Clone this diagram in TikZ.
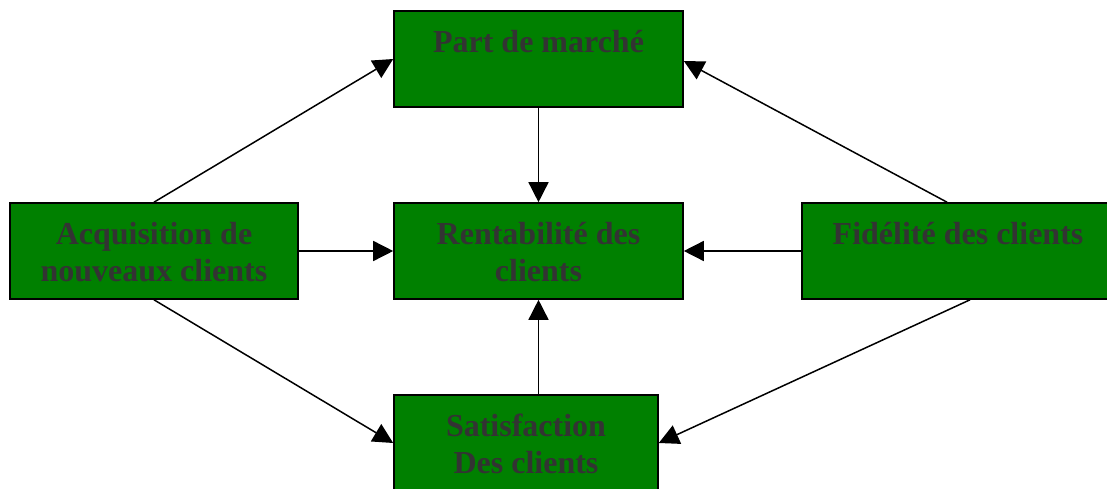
\documentclass[tikz,border=0pt]{standalone}
\usepackage{fontspec}
\setmainfont{Liberation Serif}
\usetikzlibrary{arrows.meta}
\definecolor{boxgreen}{RGB}{0,128,0}
\definecolor{labelgray}{RGB}{51,51,51}
\tikzset{
  box/.style={rectangle, draw=black, line width=1.6pt, fill=boxgreen, inner sep=0pt},
  lbl/.style={anchor=north, inner sep=0pt, align=center, text=labelgray,
    font=\fontsize{32}{37}\selectfont\bfseries},
  arr/.style={line width=1.5pt, -{Triangle[length=20pt,width=20pt]}},
}
% first line of every label gets a fixed height so all labels sit alike
\newcommand{\firstline}{\rule{0pt}{24pt}}
\begin{document}
\begin{tikzpicture}[x=1pt, y=-1pt]
  \clip (0,0) rectangle (1107,489);
  \useasboundingbox (0,0) rectangle (1107,489);

  % boxes
  \node[box, minimum width=289pt, minimum height=96pt] (part) at (538.5,59) {};
  \node[box, minimum width=289pt, minimum height=96pt] (rent) at (538.5,251) {};
  \node[box, minimum width=288pt, minimum height=96pt] (acq)  at (154,251) {};
  \node[box, minimum width=316pt, minimum height=96pt] (fid)  at (960,251) {};
  \node[box, minimum width=264pt, minimum height=96pt] (sat)  at (526,443) {};

  % labels
  \node[lbl] (tpart) at ([yshift=-18.5pt]part.north) {\firstline Part de marché};
  \node[lbl] (trent) at ([yshift=-18.5pt]rent.north) {\firstline Rentabilité des\\clients};
  \node[lbl] (tacq)  at ([yshift=-18.5pt]acq.north)  {\firstline Acquisition de\\nouveaux clients};
  \node[lbl] (tfid)  at ([xshift=-2pt,yshift=-18.5pt]fid.north)  {\firstline Fidélité des clients};
  \node[lbl] (tsat)  at ([yshift=-18.5pt]sat.north)  {\firstline Satisfaction\\Des clients};

  % connectors
  \draw[arr] (part.south) -- (rent.north);
  \draw[arr] (acq.east) -- (rent.west);
  \draw[arr] (fid.west) -- (rent.east);
  \draw[arr] (sat.north -| rent.south) -- (rent.south);
  \draw[arr] (acq.north) -- (part.west);
  \draw[arr] ([xshift=-13pt]fid.north) -- ([yshift=-2pt]part.east);
  \draw[arr] (acq.south) -- (sat.west);
  \draw[arr] ([xshift=10pt]fid.south) -- (sat.east);
\end{tikzpicture}
\end{document}
